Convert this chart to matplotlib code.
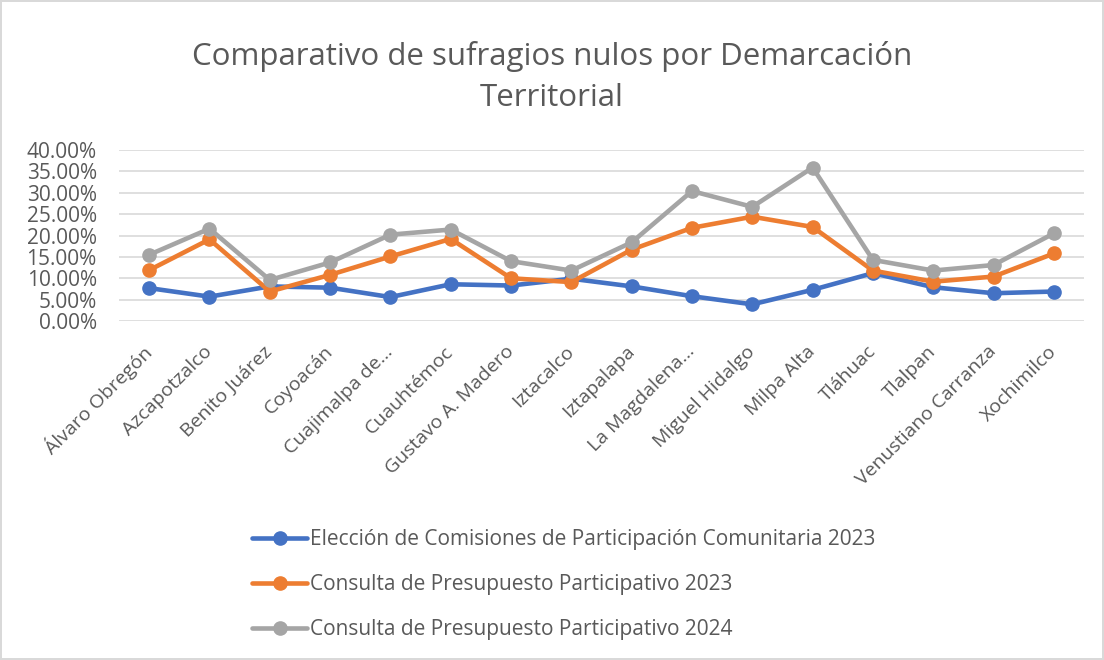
import matplotlib
matplotlib.use('Agg')
import matplotlib.pyplot as plt
from matplotlib.ticker import PercentFormatter

plt.rcParams['font.family'] = ['Open Sans', 'DejaVu Sans']

categories = ['Álvaro Obregón', 'Azcapotzalco', 'Benito Juárez', 'Coyoacán',
              'Cuajimalpa de...', 'Cuauhtémoc', 'Gustavo A. Madero', 'Iztacalco',
              'Iztapalapa', 'La Magdalena...', 'Miguel Hidalgo', 'Milpa Alta',
              'Tláhuac', 'Tlalpan', 'Venustiano Carranza', 'Xochimilco']

comisiones_2023 = [7.7, 5.7, 8.1, 7.8, 5.6, 8.6, 8.3, 9.9, 8.1, 5.8, 3.9, 7.3, 11.2, 7.9, 6.5, 6.9]
presupuesto_2023 = [11.9, 19.1, 6.9, 10.8, 15.1, 19.2, 10.0, 9.1, 16.7, 21.8, 24.4, 22.0, 11.8, 9.2, 10.4, 15.8]
presupuesto_2024 = [15.5, 21.6, 9.6, 13.7, 20.2, 21.4, 14.0, 11.8, 18.4, 30.4, 26.7, 35.9, 14.3, 11.8, 13.1, 20.5]

series = [
    ('Elección de Comisiones de Participación Comunitaria 2023', comisiones_2023, '#4472C4'),
    ('Consulta de Presupuesto Participativo 2023', presupuesto_2023, '#ED7D31'),
    ('Consulta de Presupuesto Participativo 2024', presupuesto_2024, '#A5A5A5'),
]

text_color = '#595959'

fig = plt.figure(figsize=(11.04, 6.6), dpi=100)
fig.patch.set_edgecolor('#D9D9D9')
fig.patch.set_linewidth(1.5)
ax = fig.add_axes([0.1078, 0.5136, 0.8741, 0.2591])

x = range(len(categories))
for label, vals, color in series:
    ax.plot(x, vals, color=color, linewidth=3.3, marker='o', markersize=9.5,
            label=label, solid_capstyle='round')

ax.set_ylim(0, 40)
ax.set_xlim(-0.5, len(categories) - 0.5)
ax.set_yticks(range(0, 41, 5))
ax.yaxis.set_major_formatter(PercentFormatter(decimals=2))
ax.grid(axis='y', color='#D9D9D9', linewidth=1.2)
ax.set_axisbelow(True)
for s in ax.spines.values():
    s.set_visible(False)
ax.tick_params(length=0, labelsize=15, colors=text_color)
ax.tick_params(axis='y', pad=16)
ax.set_xticks(list(x))
ax.set_xticklabels(categories, rotation=45, ha='right', va='center',
                   rotation_mode='anchor', fontsize=14)
ax.tick_params(axis='x', pad=20)

fig.text(0.5, 0.8833, 'Comparativo de sufragios nulos por Demarcación\nTerritorial',
         fontsize=22.5, color=text_color, ha='center', va='center', linespacing=1.48)

fig.legend(loc='upper left', bbox_to_anchor=(0.2283, 0.198), frameon=False,
           fontsize=15, labelcolor=text_color, handlelength=2.64,
           handletextpad=0.15, labelspacing=1.15, borderaxespad=0, borderpad=0)

fig.savefig('out.png', dpi=100)
